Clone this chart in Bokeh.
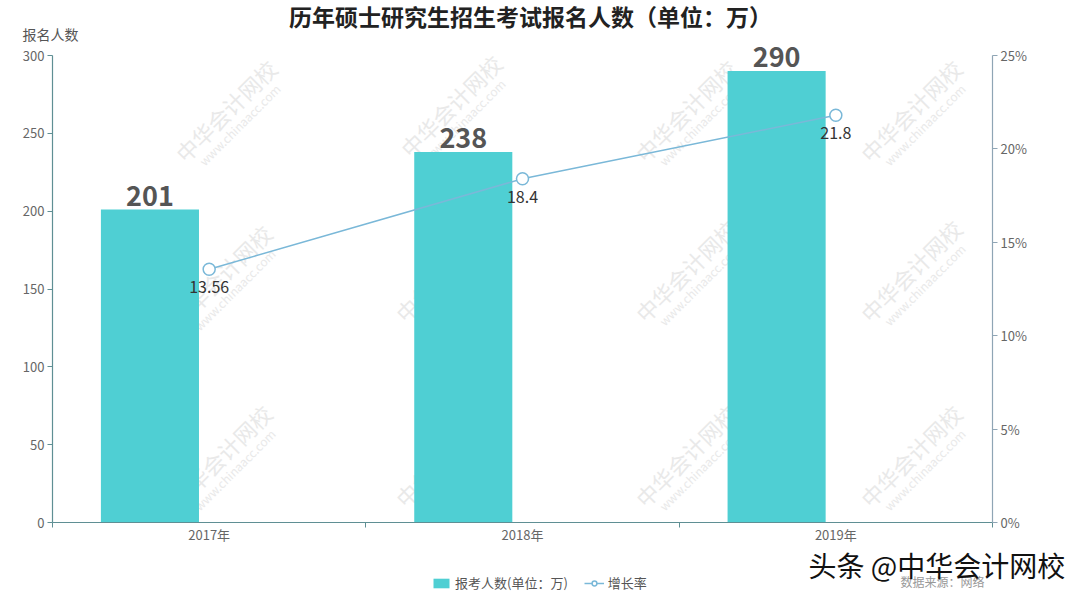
from bokeh.plotting import figure
from bokeh.layouts import column
from bokeh.models import (Range1d, LinearAxis, FixedTicker, PrintfTickFormatter,
                          ColumnDataSource, LabelSet, Label, Legend, LegendItem)
from bokeh.core.properties import value
from bokeh.transform import dodge
from bokeh.embed import file_html
from bokeh.resources import INLINE

# ---- data ----
years = ["2017年", "2018年", "2019年"]
applicants = [201, 238, 290]
growth = [13.56, 18.4, 21.8]
growth_labels = ["13.56", "18.4", "21.8"]
y_ticks = [0, 50, 100, 150, 200, 250, 300]
pct_ticks = [0, 5, 10, 15, 20, 25]
title_text = "历年硕士研究生招生考试报名人数（单位：万）"
y_name = "报名人数"
series_names = ["报考人数(单位：万)", "增长率"]
source_note = "数据来源：网络"
brand = "头条 @中华会计网校"

FONT = "Noto Sans CJK SC"
BAR_C = "#4fcfd3"
LINE_C = "#7ab8d8"
AX_L = "#5f8f94"
AX_R = "#8fa5b5"
TXT = "#666666"

W = 1080
HEAD_H, FOOT_H = 42, 54
FRAME_L, FRAME_W, FRAME_H, BORDER_B = 52, 940, 480, 21
Y_MAX, P_MAX = 300, 25
PX_PER = 467 / Y_MAX            # axis 0..300 spans 467 px
y_top = FRAME_H / PX_PER


def blank(h):
    f = figure(width=W, height=h, x_range=Range1d(0, W), y_range=Range1d(0, h),
               x_axis_type=None, y_axis_type=None, min_border=0,
               title_location=None, output_backend="svg", toolbar_location=None)
    f.grid.visible = False
    f.outline_line_color = None
    f.frame_align = False
    return f


# ---------- header ----------
head = blank(HEAD_H)
head.add_layout(Label(x=530, y=HEAD_H - 15, text=title_text, text_align="center",
                      text_baseline="middle", text_font=FONT, text_font_size="23px",
                      text_font_style="bold", text_color="#222222", text_line_height=1.0))
head.add_layout(Label(x=22, y=HEAD_H - 33, text=y_name, text_align="left",
                      text_baseline="middle", text_font=FONT, text_font_size="14px",
                      text_color="#555555", text_line_height=1.0))

# ---------- main ----------
xc = [i + 0.5 for i in range(len(years))]
src = ColumnDataSource(dict(
    x=xc, v=applicants, vt=[str(a) for a in applicants],
    g=growth, gt=growth_labels,
))

p = figure(frame_width=FRAME_W, frame_height=FRAME_H,
           min_border_left=FRAME_L, min_border_right=W - FRAME_L - FRAME_W,
           min_border_top=0, min_border_bottom=BORDER_B, title_location=None,
           x_range=Range1d(0, len(years)), y_range=Range1d(0, y_top),
           output_backend="svg", toolbar_location=None)
p.frame_align = False
p.extra_y_ranges = {"pct": Range1d(0, y_top * P_MAX / Y_MAX)}
p.xgrid.visible = False
p.ygrid.visible = False
p.outline_line_color = None

# faint watermarks
wm_pos = [(225, 110), (450, 105), (685, 110), (910, 110),
          (220, 275), (445, 270), (685, 270), (910, 270),
          (220, 455), (445, 455), (685, 455), (910, 455)]
for (X, Y) in wm_pos:
    p.add_layout(Label(x=X - FRAME_L, y=522 - Y, x_units="screen", y_units="screen",
                       text="中华会计网校", angle=45, angle_units="deg",
                       text_align="center", text_baseline="middle",
                       text_font=FONT, text_font_size="22px",
                       text_color="#e9e9e9", level="underlay"))
    p.add_layout(Label(x=X - FRAME_L + 14, y=522 - Y - 14, x_units="screen", y_units="screen",
                       text="www.chinaacc.com", angle=45, angle_units="deg",
                       text_align="center", text_baseline="middle",
                       text_font=FONT, text_font_size="12px",
                       text_color="#e9e9e9", level="underlay"))

bars = p.vbar(x=dodge("x", -0.189, range=p.x_range), top="v", width=0.313,
              source=src, fill_color=BAR_C, line_color=None)
p.line(x="x", y="g", source=src, y_range_name="pct",
       line_color=LINE_C, line_width=1.5)
p.scatter(x="x", y="g", source=src, y_range_name="pct", size=12,
          fill_color="white", line_color=LINE_C, line_width=1.5)

# axes
xa = p.xaxis[0]
xa.ticker = FixedTicker(ticks=xc, minor_ticks=list(range(len(years) + 1)))
xa.major_label_overrides = {c: y for c, y in zip(xc, years)}
xa.major_tick_line_color = None
xa.major_tick_out = 0
xa.major_tick_in = 0
xa.minor_tick_out = 5
xa.minor_tick_in = 0
xa.minor_tick_line_color = AX_L
xa.axis_line_color = AX_L
xa.axis_line_width = 1.2
xa.major_label_text_font = FONT
xa.major_label_text_font_size = "13px"
xa.major_label_text_color = TXT
xa.major_label_standoff = -3

ya = p.yaxis[0]
ya.ticker = FixedTicker(ticks=y_ticks)
ya.bounds = (0, Y_MAX)
ya.minor_tick_line_color = None
ya.major_tick_out = 5
ya.major_tick_in = 0
ya.major_tick_line_color = AX_L
ya.axis_line_color = AX_L
ya.axis_line_width = 1.2
ya.major_label_text_font = FONT
ya.major_label_text_font_size = "13px"
ya.major_label_text_color = TXT
ya.major_label_standoff = 3

ra = LinearAxis(y_range_name="pct", ticker=FixedTicker(ticks=pct_ticks),
                formatter=PrintfTickFormatter(format="%d%%"), bounds=(0, P_MAX))
ra.minor_tick_line_color = None
ra.major_tick_out = 5
ra.major_tick_in = 0
ra.major_tick_line_color = AX_R
ra.axis_line_color = AX_R
ra.axis_line_width = 1.2
ra.major_label_text_font = FONT
ra.major_label_text_font_size = "13px"
ra.major_label_text_color = TXT
ra.major_label_standoff = 3
p.add_layout(ra, "right")

# value labels
p.add_layout(LabelSet(x=dodge("x", -0.189, range=p.x_range), y="v", text="vt",
                      source=src, text_align="center", text_baseline="alphabetic",
                      y_offset=4, text_font=value(FONT), text_font_size="27px",
                      text_font_style="bold", text_color="#555555", text_line_height=1.0))
p.add_layout(LabelSet(x="x", y="g", text="gt", source=src, y_range_name="pct",
                      text_align="center", text_baseline="top", y_offset=-12,
                      text_font=value(FONT), text_font_size="16px", text_color="#333333"))

# ---------- footer ----------
foot = blank(FOOT_H)
lb = foot.vbar(x="x", top="v", width=0.3, source=src, fill_color=BAR_C,
               line_color=None, visible=False)
ll = foot.line(x="x", y="g", source=src, line_color=LINE_C, line_width=1.5, visible=False)
ls = foot.scatter(x="x", y="g", source=src, size=10, fill_color="white",
                  line_color=LINE_C, line_width=1.5, visible=False)
legend = Legend(items=[LegendItem(label=series_names[0], renderers=[lb]),
                       LegendItem(label=series_names[1], renderers=[ll, ls])],
                orientation="horizontal", location=(431, 8),
                border_line_color=None, background_fill_alpha=0,
                inactive_fill_alpha=0,
                label_text_font=FONT, label_text_font_size="13px",
                label_text_color="#555555", glyph_width=20, glyph_height=12,
                spacing=16, padding=2, margin=0, label_standoff=4)
foot.add_layout(legend, "center")
foot.add_layout(Label(x=900, y=19, text=source_note, text_align="left",
                      text_baseline="middle", text_font=FONT, text_font_size="12px",
                      text_color="#999999", text_line_height=1.0))
foot.add_layout(Label(x=808, y=36, text=brand, text_align="left",
                      text_baseline="middle", text_font=FONT, text_font_size="28px",
                      text_color="#111111", text_line_height=1.0))

layout = column(head, p, foot, spacing=0)
open("out.html", "w").write(file_html(layout, INLINE))
